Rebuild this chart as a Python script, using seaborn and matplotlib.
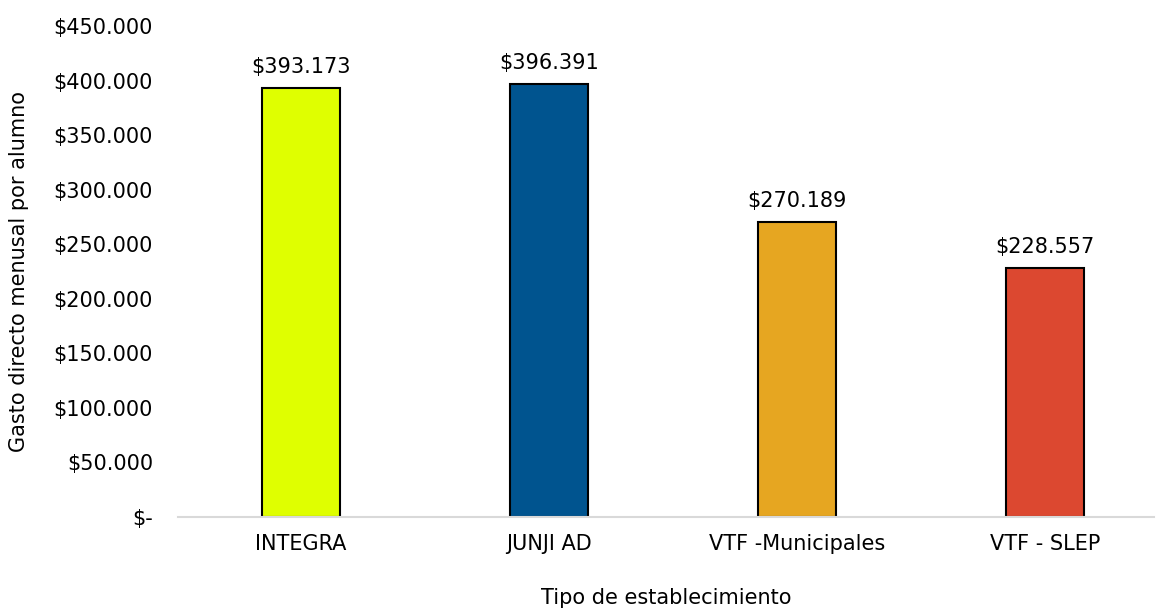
import pandas as pd
import seaborn as sns
import matplotlib.pyplot as plt
from matplotlib.ticker import FuncFormatter

# Datos
tipos = ['INTEGRA', 'JUNJI AD', 'VTF -Municipales', 'VTF - SLEP']
gasto = [393173, 396391, 270189, 228557]
colores = ['#DFFF00', '#00548F', '#E6A621', '#DC4830']

df = pd.DataFrame({'tipo': tipos, 'gasto': gasto})

sns.set_style('white')
plt.rcParams['font.family'] = ['DejaVu Sans']
plt.rcParams['text.color'] = 'black'
plt.rcParams['axes.labelcolor'] = 'black'
plt.rcParams['xtick.color'] = 'black'
plt.rcParams['ytick.color'] = 'black'

fig = plt.figure(figsize=(11.56, 6.08), dpi=100)
ax = fig.add_axes([178 / 1156, 1 - 517 / 608, 976 / 1156, 491 / 608])

sns.barplot(data=df, x='tipo', y='gasto', hue='tipo', palette=colores, saturation=1,
            width=0.315, edgecolor='black', linewidth=1.5, legend=False, ax=ax)


def pesos(v, pos=None):
    if v == 0:
        return '$-'
    return '$' + f'{v:,.0f}'.replace(',', '.')


for c in ax.containers:
    ax.bar_label(c, labels=[pesos(b.get_height()) for b in c], padding=8, fontsize=15)

ax.set_ylim(0, 450000)
ax.set_xlim(-0.496, 3.44)
ax.set_yticks(range(0, 450001, 50000))
ax.yaxis.set_major_formatter(FuncFormatter(pesos))
ax.tick_params(axis='both', length=0, labelsize=15)
ax.tick_params(axis='y', pad=18)
ax.tick_params(axis='x', pad=12)

for s in ['top', 'right', 'left']:
    ax.spines[s].set_visible(False)
ax.spines['bottom'].set_color('#D9D9D9')
ax.spines['bottom'].set_linewidth(1.5)

ax.set_xlabel('Tipo de establecimiento', fontsize=15, labelpad=25)
ax.set_ylabel('Gasto directo menusal por alumno', fontsize=15, labelpad=18)

plt.savefig('out.png', dpi=100)
